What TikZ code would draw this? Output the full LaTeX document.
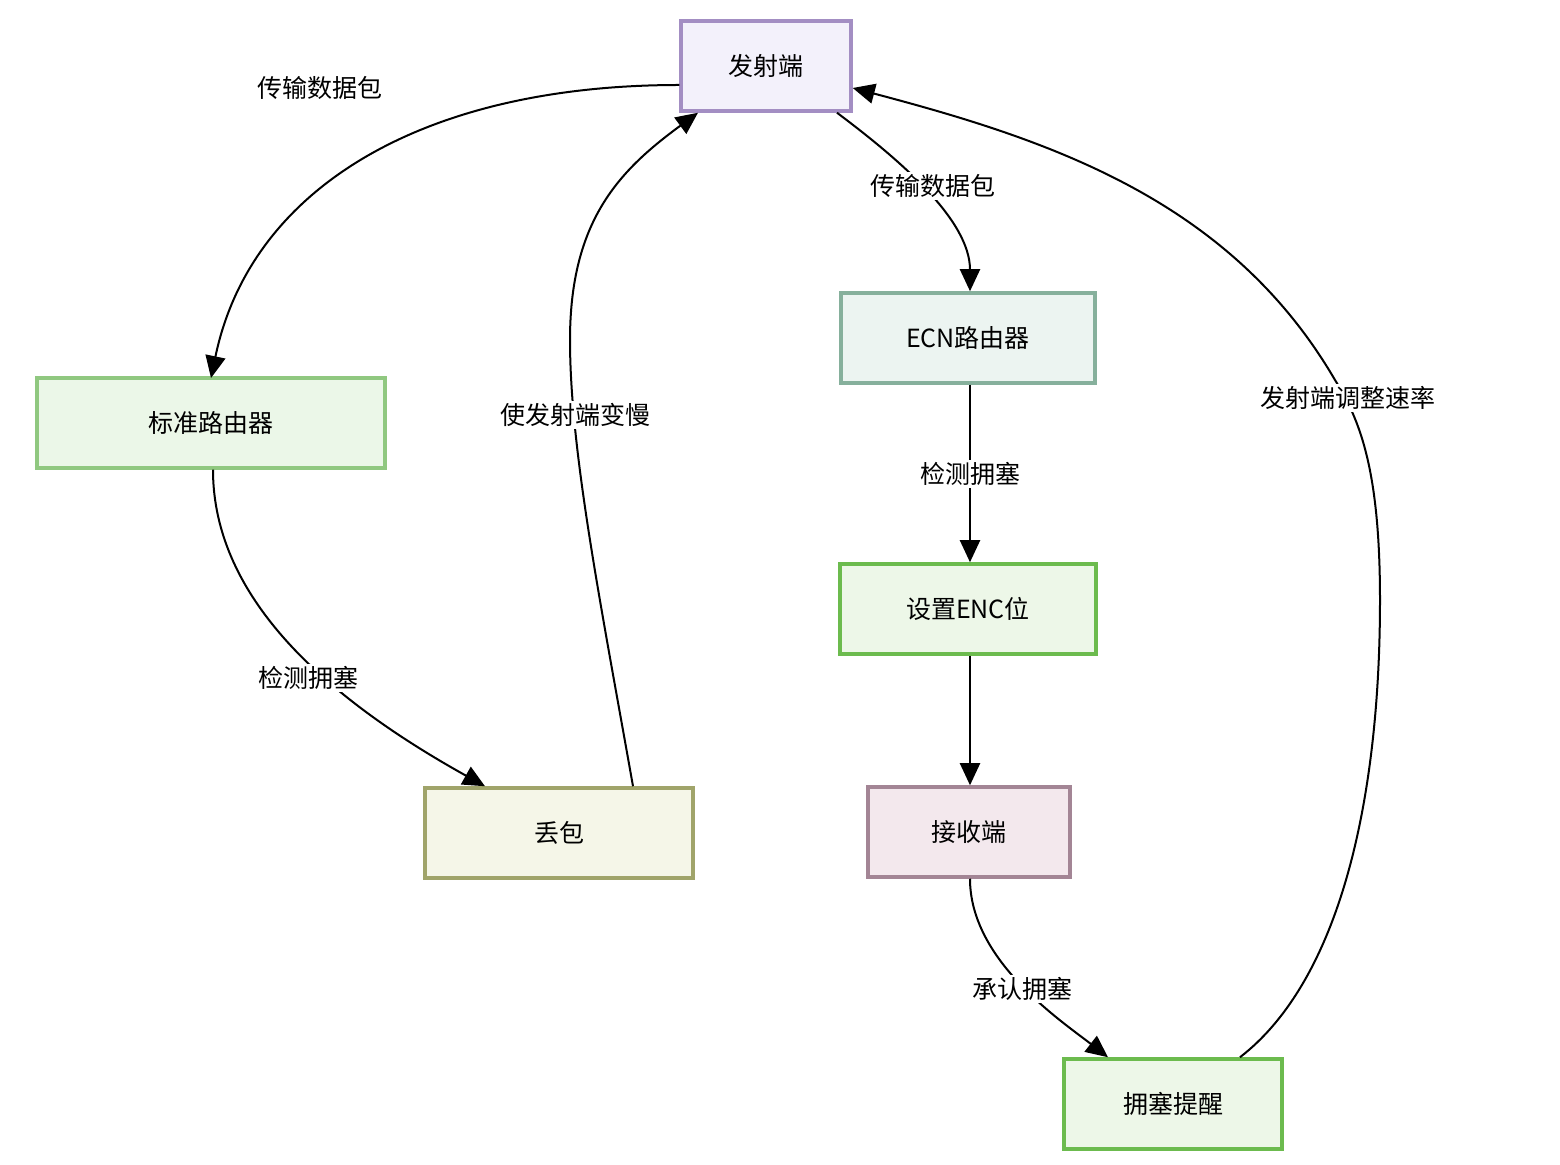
\documentclass[tikz,border=0pt]{standalone}
\usepackage{fontspec}
\setmainfont{Noto Sans CJK SC}
\usepackage{tikz}
\definecolor{sendline}{HTML}{A38EC3}
\definecolor{sendfill}{HTML}{F3F1FB}
\definecolor{greenline}{HTML}{6CBB4E}
\definecolor{greenfill}{HTML}{EDF7E8}
\definecolor{paleline}{HTML}{90C880}
\definecolor{palefill}{HTML}{EBF7E8}
\definecolor{oliveline}{HTML}{A0A46A}
\definecolor{olivefill}{HTML}{F5F6E8}
\definecolor{tealline}{HTML}{86B09C}
\definecolor{tealfill}{HTML}{ECF4F1}
\definecolor{mauveline}{HTML}{A38595}
\definecolor{mauvefill}{HTML}{F3E8ED}
\usetikzlibrary{arrows.meta}

\begin{document}
\begin{tikzpicture}[
    x=0.5pt, y=-0.5pt,
    box/.style={draw, line width=1.75pt, minimum height=45pt, inner sep=0pt,
                font=\fontsize{12.5}{15}\selectfont},
    flow/.style={line width=1pt, -{Triangle[length=11pt, width=10pt]}},
    lbl/.style={fill=white, inner sep=1pt, font=\fontsize{12.5}{15}\selectfont}
]
    \useasboundingbox (0,0) rectangle (1560,1165);

    \node[box, draw=sendline, fill=sendfill, minimum width=85pt] (sender) at (766,66) {发射端};
    \node[box, draw=paleline, fill=palefill, minimum width=174pt] (stdrouter) at (211,423) {标准路由器\hspace{9pt}};
    \node[box, draw=oliveline, fill=olivefill, minimum width=134pt] (drop) at (559,833) {丢包\hspace{6pt}};
    \node[box, draw=tealline, fill=tealfill, minimum width=127pt] (ecnrouter) at (968,338) {ECN路由器};
    \node[box, draw=greenline, fill=greenfill, minimum width=128pt] (setbit) at (968,609) {设置ENC位};
    \node[box, draw=mauveline, fill=mauvefill, minimum width=101pt] (receiver) at (969,832) {接收端};
    \node[box, draw=greenline, fill=greenfill, minimum width=109pt] (notice) at (1173,1104) {拥塞提醒\hspace{8pt}};

    \draw[flow] (sender.west |- 0,85) .. controls (420,85) and (250,190) .. (stdrouter.north |- 0,378);
    \draw[flow] (sender.south -| 837,0) .. controls (900,160) and (970,220) .. (ecnrouter.north -| 970,0);
    \draw[flow] (notice.north -| 1240,0) .. controls (1340,980) and (1380,800) .. (1380,600)
        .. controls (1380,470) and (1360,420) .. (1335,380)
        .. controls (1230,200) and (1050,140) .. (sender.east |- 0,88);
    \draw[flow] (stdrouter.south -| 213,0) .. controls (213,600) and (330,700) .. (drop.north -| 485,0);
    \draw[flow] (drop.north -| 633,0) .. controls (600,600) and (570,450) .. (570,340)
        .. controls (570,220) and (620,170) .. (sender.south -| 698,0);
    \draw[flow] (ecnrouter.south -| 970,0) -- (setbit.north -| 970,0);
    \draw[flow] (setbit.south -| 970,0) -- (receiver.north -| 970,0);
    \draw[flow] (receiver.south -| 970,0) .. controls (970,960) and (1060,1020) .. (notice.north -| 1108,0);

    \node[lbl] (l1) at (320,88) {传输数据包};
    \node[lbl] (l2) at (933,186) {传输数据包};
    \node[lbl] (l3) at (1348,398) {发射端调整速率};
    \node[lbl] (l4) at (308,678) {检测拥塞};
    \node[lbl] (l5) at (575,415) {使发射端变慢};
    \node[lbl] (l6) at (970,474) {检测拥塞};
    \node[lbl] (l7) at (1022,989) {承认拥塞};
\end{tikzpicture}
\end{document}
